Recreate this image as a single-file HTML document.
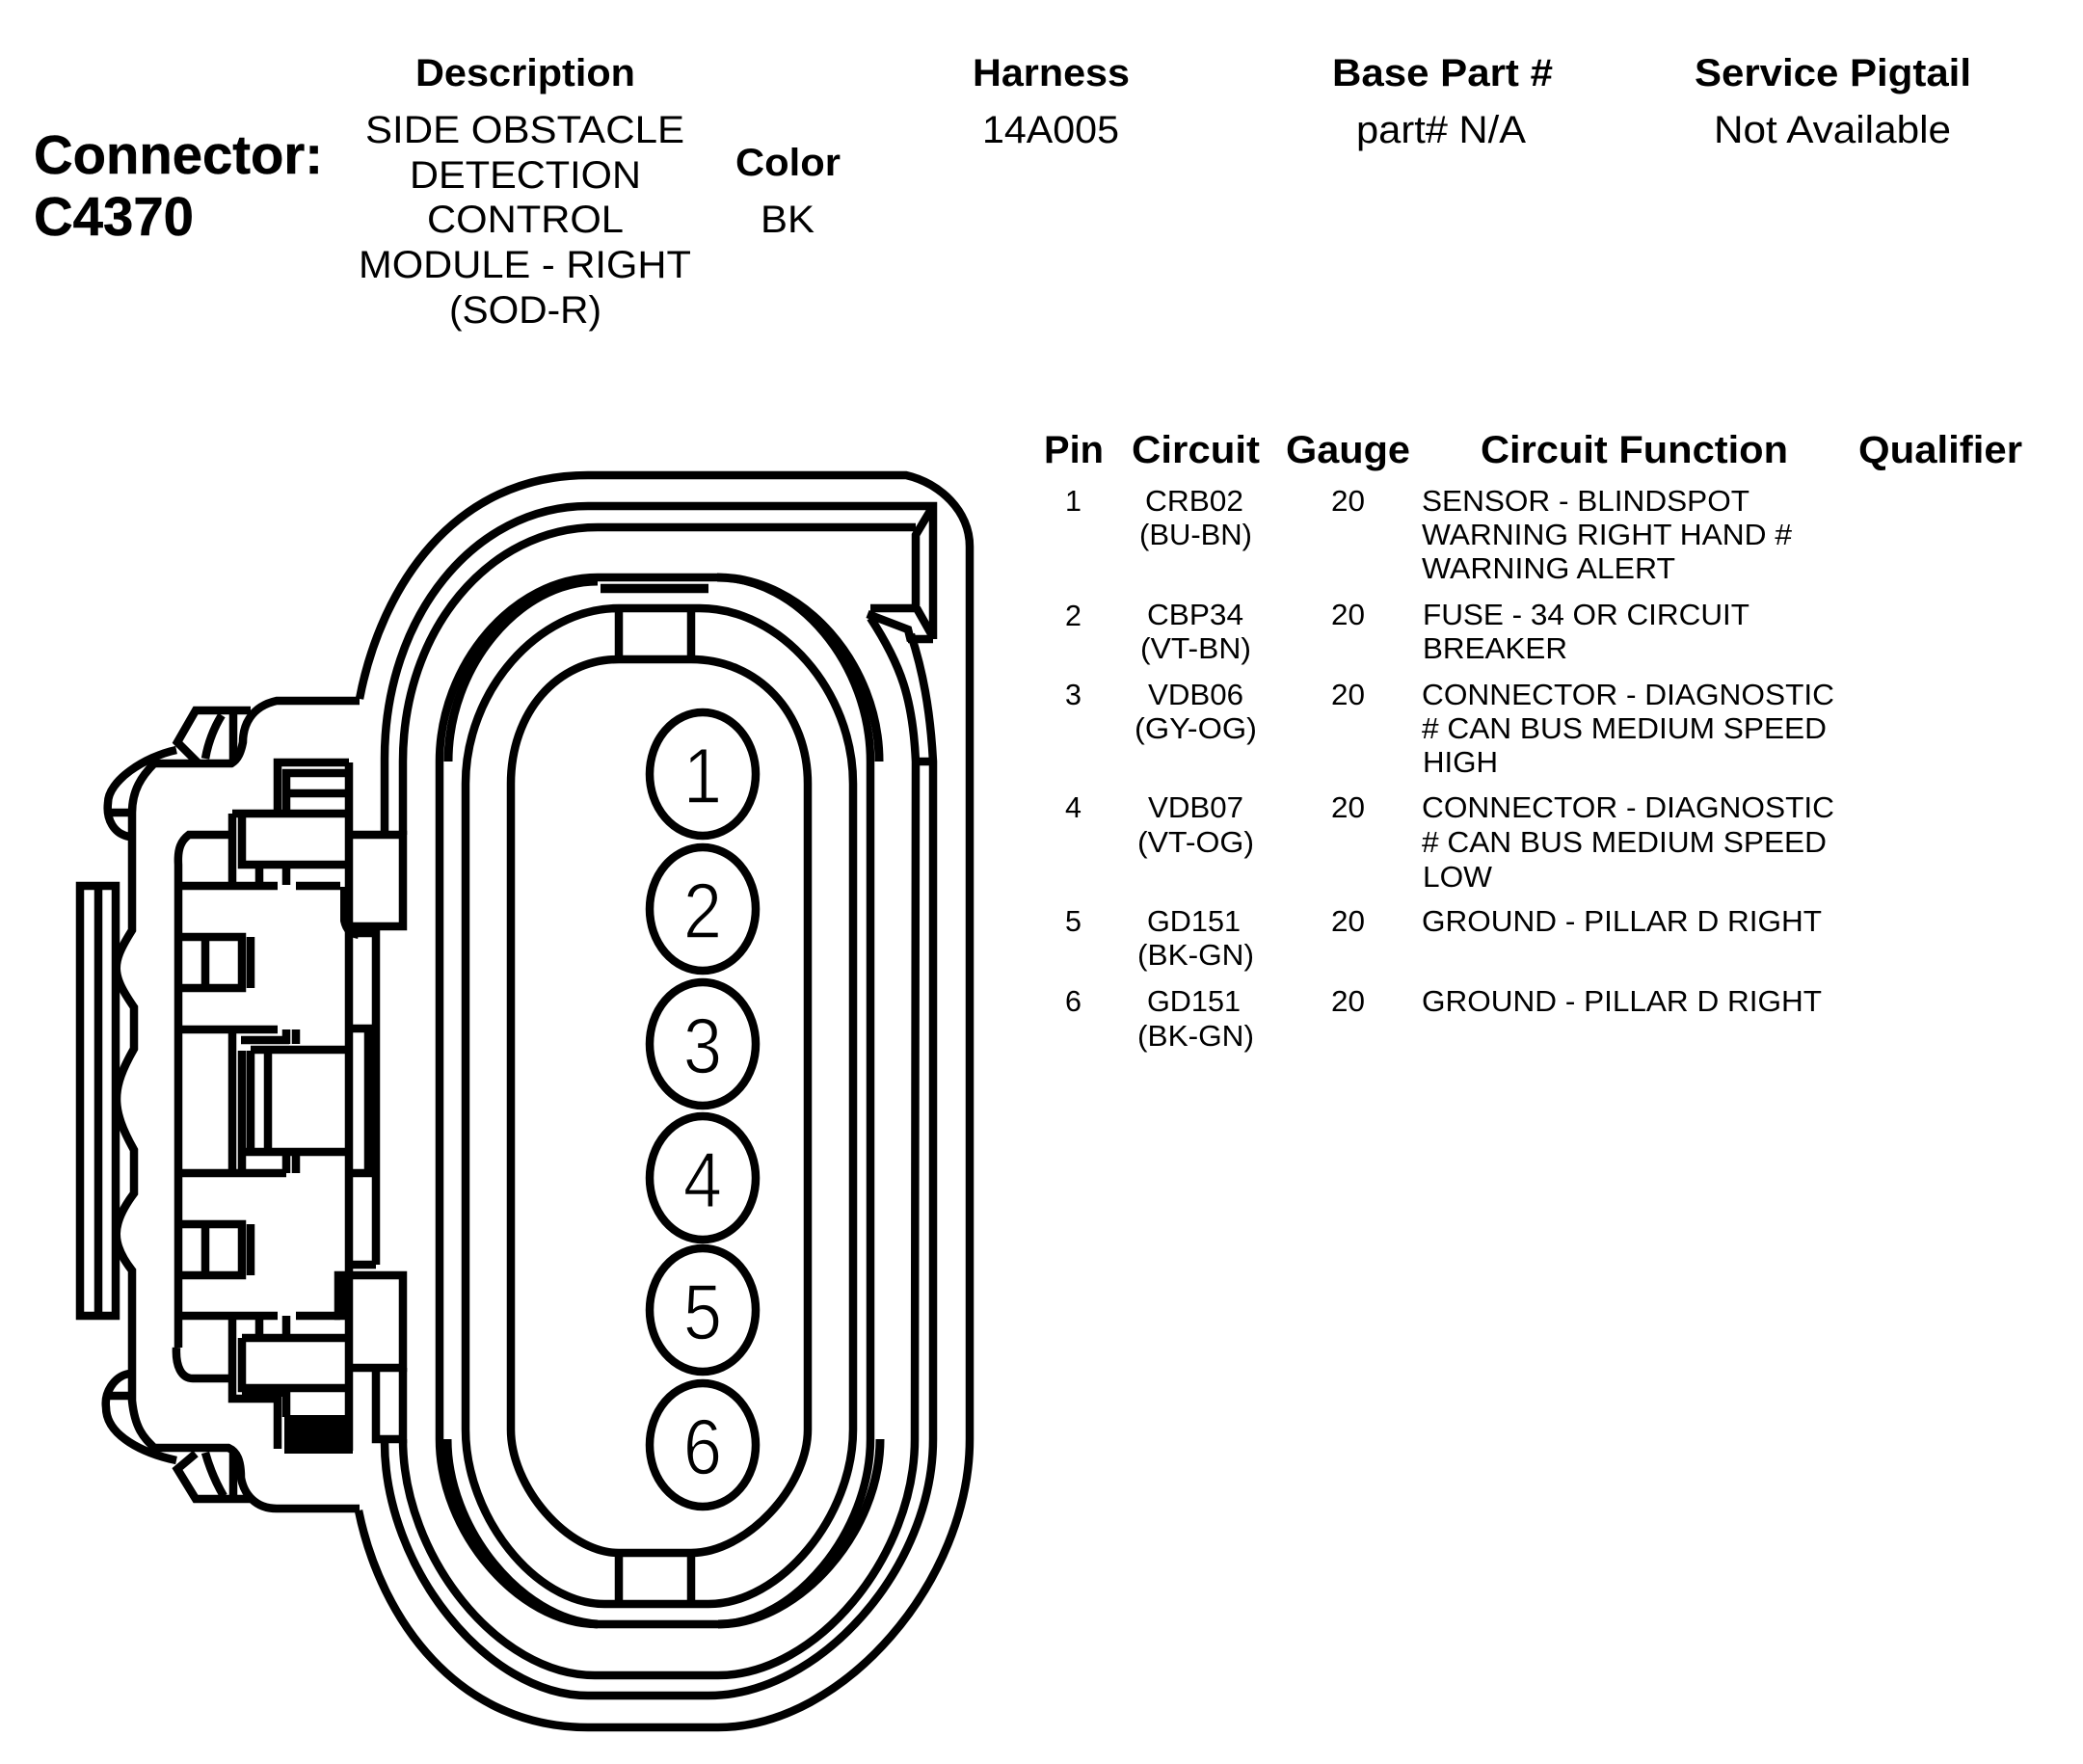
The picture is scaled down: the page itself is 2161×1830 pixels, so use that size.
<!DOCTYPE html>
<html><head><meta charset="utf-8"><title>Connector C4370</title>
<style>html,body{margin:0;padding:0;background:#fff}svg{display:block}
text{font-family:"Liberation Sans",sans-serif;fill:#000}
.b{font-weight:bold;font-size:40px}.h{font-size:40px}.t{font-size:30.5px}
.d{font-size:82px;text-anchor:middle;stroke:#fff;stroke-width:1.5px}</style></head><body>
<svg width="2161" height="1830" viewBox="0 0 2161 1830" xmlns="http://www.w3.org/2000/svg">
<rect width="2161" height="1830" fill="#fff"/>
<text class="b" style="font-size:57px;stroke:#000;stroke-width:.5" x="35" y="180" textLength="300" lengthAdjust="spacingAndGlyphs">Connector:</text>
<text class="b" style="font-size:57px;stroke:#000;stroke-width:.5" x="35" y="244" textLength="166" lengthAdjust="spacingAndGlyphs">C4370</text>
<text class="b" x="431" y="89" textLength="228" lengthAdjust="spacingAndGlyphs">Description</text>
<text class="b" x="1009" y="89" textLength="163" lengthAdjust="spacingAndGlyphs">Harness</text>
<text class="b" x="1382" y="89" textLength="229" lengthAdjust="spacingAndGlyphs">Base Part #</text>
<text class="b" x="1758" y="89" textLength="287" lengthAdjust="spacingAndGlyphs">Service Pigtail</text>
<text class="h" x="379" y="148" textLength="331" lengthAdjust="spacingAndGlyphs">SIDE OBSTACLE</text>
<text class="h" x="425" y="195" textLength="240" lengthAdjust="spacingAndGlyphs">DETECTION</text>
<text class="h" x="443" y="241" textLength="204" lengthAdjust="spacingAndGlyphs">CONTROL</text>
<text class="h" x="372" y="288" textLength="345" lengthAdjust="spacingAndGlyphs">MODULE - RIGHT</text>
<text class="h" x="466" y="335" textLength="158" lengthAdjust="spacingAndGlyphs">(SOD-R)</text>
<text class="b" x="763" y="182" textLength="109" lengthAdjust="spacingAndGlyphs">Color</text>
<text class="h" x="789" y="241" textLength="56" lengthAdjust="spacingAndGlyphs">BK</text>
<text class="h" x="1019" y="148" textLength="142" lengthAdjust="spacingAndGlyphs">14A005</text>
<text class="h" x="1407" y="148" textLength="176" lengthAdjust="spacingAndGlyphs">part# N/A</text>
<text class="h" x="1778" y="148" textLength="246" lengthAdjust="spacingAndGlyphs">Not Available</text>

<text class="b" x="1083" y="480" textLength="62" lengthAdjust="spacingAndGlyphs">Pin</text>
<text class="b" x="1174" y="480" textLength="133" lengthAdjust="spacingAndGlyphs">Circuit</text>
<text class="b" x="1334" y="480" textLength="129" lengthAdjust="spacingAndGlyphs">Gauge</text>
<text class="b" x="1536" y="480" textLength="319" lengthAdjust="spacingAndGlyphs">Circuit Function</text>
<text class="b" x="1928" y="480" textLength="170" lengthAdjust="spacingAndGlyphs">Qualifier</text>

<text class="t" x="1105" y="530">1</text><text class="t" x="1105" y="649">2</text><text class="t" x="1105" y="731">3</text><text class="t" x="1105" y="848">4</text><text class="t" x="1105" y="966">5</text><text class="t" x="1105" y="1049">6</text>
<text class="t" x="1188" y="530" textLength="102" lengthAdjust="spacingAndGlyphs">CRB02</text>
<text class="t" x="1182" y="565" textLength="117" lengthAdjust="spacingAndGlyphs">(BU-BN)</text>
<text class="t" x="1190" y="648" textLength="100" lengthAdjust="spacingAndGlyphs">CBP34</text>
<text class="t" x="1183" y="683" textLength="115" lengthAdjust="spacingAndGlyphs">(VT-BN)</text>
<text class="t" x="1191" y="731" textLength="99" lengthAdjust="spacingAndGlyphs">VDB06</text>
<text class="t" x="1177" y="766" textLength="127" lengthAdjust="spacingAndGlyphs">(GY-OG)</text>
<text class="t" x="1191" y="848" textLength="99" lengthAdjust="spacingAndGlyphs">VDB07</text>
<text class="t" x="1180" y="884" textLength="121" lengthAdjust="spacingAndGlyphs">(VT-OG)</text>
<text class="t" x="1190" y="966" textLength="97" lengthAdjust="spacingAndGlyphs">GD151</text>
<text class="t" x="1180" y="1001" textLength="121" lengthAdjust="spacingAndGlyphs">(BK-GN)</text>
<text class="t" x="1190" y="1049" textLength="97" lengthAdjust="spacingAndGlyphs">GD151</text>
<text class="t" x="1180" y="1085" textLength="121" lengthAdjust="spacingAndGlyphs">(BK-GN)</text>
<text class="t" x="1381" y="530" textLength="35" lengthAdjust="spacingAndGlyphs">20</text><text class="t" x="1381" y="648" textLength="35" lengthAdjust="spacingAndGlyphs">20</text><text class="t" x="1381" y="731" textLength="35" lengthAdjust="spacingAndGlyphs">20</text><text class="t" x="1381" y="848" textLength="35" lengthAdjust="spacingAndGlyphs">20</text><text class="t" x="1381" y="966" textLength="35" lengthAdjust="spacingAndGlyphs">20</text><text class="t" x="1381" y="1049" textLength="35" lengthAdjust="spacingAndGlyphs">20</text>
<text class="t" x="1475" y="530" textLength="340" lengthAdjust="spacingAndGlyphs">SENSOR - BLINDSPOT</text>
<text class="t" x="1475" y="565" textLength="384" lengthAdjust="spacingAndGlyphs">WARNING RIGHT HAND #</text>
<text class="t" x="1475" y="600" textLength="263" lengthAdjust="spacingAndGlyphs">WARNING ALERT</text>
<text class="t" x="1476" y="648" textLength="339" lengthAdjust="spacingAndGlyphs">FUSE - 34 OR CIRCUIT</text>
<text class="t" x="1476" y="683" textLength="150" lengthAdjust="spacingAndGlyphs">BREAKER</text>
<text class="t" x="1475" y="731" textLength="428" lengthAdjust="spacingAndGlyphs">CONNECTOR - DIAGNOSTIC</text>
<text class="t" x="1475" y="766" textLength="420" lengthAdjust="spacingAndGlyphs"># CAN BUS MEDIUM SPEED</text>
<text class="t" x="1476" y="801" textLength="78" lengthAdjust="spacingAndGlyphs">HIGH</text>
<text class="t" x="1475" y="848" textLength="428" lengthAdjust="spacingAndGlyphs">CONNECTOR - DIAGNOSTIC</text>
<text class="t" x="1475" y="884" textLength="420" lengthAdjust="spacingAndGlyphs"># CAN BUS MEDIUM SPEED</text>
<text class="t" x="1476" y="920" textLength="72" lengthAdjust="spacingAndGlyphs">LOW</text>
<text class="t" x="1475" y="966" textLength="415" lengthAdjust="spacingAndGlyphs">GROUND - PILLAR D RIGHT</text>
<text class="t" x="1475" y="1049" textLength="415" lengthAdjust="spacingAndGlyphs">GROUND - PILLAR D RIGHT</text>

<g fill="none" stroke="#000" stroke-width="8.5" stroke-linejoin="miter">
<!-- outer shell -->
<path d="M373 725C395 610 470 493 610 493L940 493C975 501 1006 530 1006 567L1006 1493C1006 1640 875 1792 745 1792L610 1792C475 1792 395 1680 372 1567"/>
<!-- second shell -->
<path d="M399 866L399 787C399 640 492 525 610 525L968 525L968 663"/>
<path d="M399 1496C399 1626 505 1759 610 1759L735 1759C851 1759 968 1626 968 1493L968 790C965 735 957 695 945 658"/>
<!-- third shell -->
<path d="M418 866L418 790C418 654 507 547 620 547L950 547"/>
<path d="M418 1493C418 1615 517 1738 617 1738L745 1738C847 1738 949 1615 949 1493L950 790C947 725 935 690 903 641"/>
<path d="M968 525L950 555L950 631L903 631M950 790L968 790M951 631L968 661M942 663L968 663M900 637L942 653L945 665"/>
<!-- seal -->
<path d="M456 1493L456 790C456 689 533 599 620 599L744 599C828 599 903 689 903 790L903 1493C903 1589 824 1685 745 1685L620 1685C538 1685 456 1589 456 1493"/>
<path stroke-width="9" d="M465 790C465 692 538 603 620 603M912 790C912 689 833 599 744 599"/>
<path stroke-width="9" d="M464 1493C464 1585 540 1680 620 1685M913 1493C913 1589 829 1685 745 1685"/>
<path stroke-width="9.5" d="M623 610.5L735 610.5"/>
<!-- inner ovals -->
<path d="M483 813C483 717 558 631 642 631L726 631C810 631 885 717 885 813L885 1483C885 1573 810 1664 735 1664L627 1664C555 1664 483 1573 483 1483Z"/>
<path d="M530 813C530 739 578 684 642 684L717 684C786 684 838 739 838 813L838 1483C838 1543 774 1611 717 1611L642 1611C589 1611 530 1543 530 1483Z"/>
<path d="M642 631L642 684M717 631L717 684M642 1611L642 1664M717 1611L717 1664"/>
<!-- cavities -->
<ellipse cx="729" cy="803" rx="55" ry="64"/><ellipse cx="729" cy="943" rx="55" ry="64"/><ellipse cx="729" cy="1083" rx="55" ry="64"/><ellipse cx="729" cy="1222" rx="55" ry="64"/><ellipse cx="729" cy="1359" rx="55" ry="64"/><ellipse cx="729" cy="1499" rx="55" ry="64"/>
<!-- body outline -->
<path d="M373 727L287 727C260 733 252 753 252 770C250 780 247 788 240 792L160 792C147 805 137 820 137 843L137 965C115 1000 115 1010 139 1045L139 1088C115 1130 115 1150 139 1193L139 1238C115 1270 115 1290 137 1318L137 1453C140 1483 150 1492 160 1502L237 1502C246 1506 250 1515 250 1533C253 1550 265 1565 287 1565L373 1565"/>
<!-- latches -->
<path d="M260 737L203 737L184 770L205 791M230 742C222 755 216 770 213 787M242 740L242 788"/>
<path d="M183 778C150 785 112 810 112 833C110 850 118 865 134 868M112 843L140 843"/>
<path d="M260 1555L203 1555L184 1524L203 1508M213 1507C218 1525 225 1540 232 1552M242 1507L242 1552"/>
<path d="M183 1515C150 1508 110 1490 110 1460C108 1445 118 1428 134 1425M112 1448L140 1448"/>
<!-- strap -->
<path d="M83 919L120 919L120 1365L83 1365ZM102 919L102 1365"/>
<!-- inner wall -->
<path d="M185 1398L185 897C184 880 188 872 196 866L238 866M183 1398C182 1417 188 1430 200 1430L238 1430"/>
<!-- upper block group -->
<path d="M241 844L241 919M241 844L362 844M362 791L362 1000M251 844L251 897L362 897"/>
<path d="M288 844L288 791L362 791M297 844L297 802L362 802M297 823L362 823"/>
<path d="M269 897L269 919M297 897L297 918M185 919L288 919M307 919L353 919"/>
<path d="M362 866L418 866L418 961L362 961"/>
<path stroke-width="12" d="M359 920L359 955C361 964 365 967 372 968"/>
<path d="M362 968L390 968L390 1312M362 1000L362 1505M362 1067L390 1067M362 1217L390 1217M362 1312L390 1312"/>
<path d="M382 1070L382 1213"/>
<!-- windows -->
<path d="M185 972L251 972L251 1025L185 1025M213 972L213 1025M260 972L260 1025"/>
<path d="M185 1270L251 1270L251 1323L185 1323M213 1270L213 1323M260 1270L260 1323"/>
<!-- middle -->
<path d="M185 1068L288 1068M250 1079L300 1079M297 1068L297 1083M307 1068L307 1083M260 1089L362 1089"/>
<path d="M241 1068L241 1215M251 1090L251 1215M260 1090L260 1193M278 1090L278 1193M252 1195L362 1195M297 1195L297 1217M307 1195L307 1217M185 1217L297 1217"/>
<!-- lower block group -->
<path d="M362 1323L418 1323L418 1419L362 1419"/>
<rect x="351" y="1323" width="10" height="42" fill="#000"/>
<path d="M185 1365L288 1365M307 1365L353 1365M269 1365L269 1385M297 1365L297 1385M251 1388L362 1388M241 1367L241 1451L288 1451L288 1503M251 1388L251 1440L362 1440M297 1440L297 1470"/>
<rect x="251" y="1437" width="46" height="12" fill="#000" stroke="none"/>
<rect x="295" y="1468" width="71" height="40" fill="#000" stroke="none"/>
<path d="M390 1419L390 1493L418 1493L418 1419"/>
</g>
<text class="d" x="729" y="833" transform="translate(729 0) scale(.88 1) translate(-729 0)">1</text>
<text class="d" x="729" y="973" transform="translate(729 0) scale(.88 1) translate(-729 0)">2</text>
<text class="d" x="729" y="1113" transform="translate(729 0) scale(.88 1) translate(-729 0)">3</text>
<text class="d" x="729" y="1252" transform="translate(729 0) scale(.88 1) translate(-729 0)">4</text>
<text class="d" x="729" y="1389" transform="translate(729 0) scale(.88 1) translate(-729 0)">5</text>
<text class="d" x="729" y="1529" transform="translate(729 0) scale(.88 1) translate(-729 0)">6</text>
</svg>
</body></html>
